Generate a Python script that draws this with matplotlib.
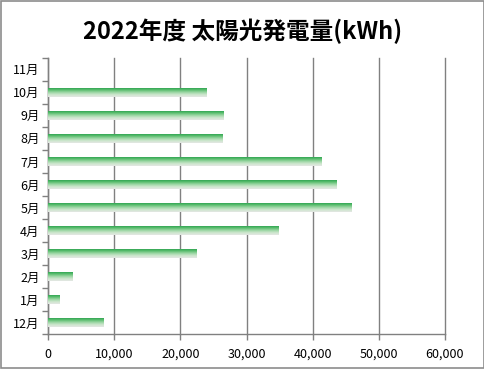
import matplotlib
matplotlib.use("Agg")
import matplotlib.pyplot as plt
import numpy as np
from matplotlib.colors import LinearSegmentedColormap
from matplotlib.patches import Rectangle

months = ["12月", "1月", "2月", "3月", "4月", "5月", "6月", "7月", "8月", "9月", "10月", "11月"]
values = [8370, 1770, 3690, 22420, 34850, 45880, 43560, 41340, 26390, 26540, 23930, 0]
xticks = [0, 10000, 20000, 30000, 40000, 50000, 60000]
title = "2022年度 太陽光発電量(kWh)"

plt.rcParams['font.family'] = ['Noto Sans CJK JP', 'DejaVu Sans']

fig = plt.figure(figsize=(4.85, 3.69), dpi=100)
fig.patch.set_facecolor("white")
fig.add_artist(Rectangle((0.002, 0.003), 0.995, 0.994, transform=fig.transFigure,
                         fill=False, edgecolor="#8c8c8c", linewidth=1.2))

ax = fig.add_axes([0.099, 0.095, 0.8185, 0.748])
y = np.arange(len(months))
bars = ax.barh(y, values, height=0.4, color="none", edgecolor="none", zorder=3)

cmap = LinearSegmentedColormap.from_list(
    "g", ["#e4e7e4", "#cbe6cb", "#94d49e", "#52b968", "#1f9a48"])
grad = np.linspace(0, 1, 64).reshape(-1, 1)
for b in bars:
    if b.get_width() <= 0:
        continue
    x0, y0 = b.get_x(), b.get_y()
    w, h = b.get_width(), b.get_height()
    im = ax.imshow(grad, cmap=cmap, aspect="auto", origin="lower",
                   extent=[x0, x0 + w, y0, y0 + h], zorder=3, interpolation="bilinear")
    im.set_clip_path(b)

ax.set_xlim(0, 60000)
ax.set_ylim(-0.5, len(months) - 0.5)
ax.set_xticks(xticks)
ax.set_xticklabels([f"{v:,}" for v in xticks], fontsize=9)
ax.set_yticks(y)
ax.set_yticklabels(months, fontsize=9)
ax.set_yticks(np.arange(-0.5, len(months), 1), minor=True)
ax.tick_params(axis="y", which="major", length=0, pad=6)
ax.tick_params(axis="y", which="minor", length=4, color="#808080", width=1)
ax.tick_params(axis="x", length=4, color="#808080", width=1, pad=6)
ax.grid(axis="x", color="#808080", linewidth=1, zorder=0)
for gl in ax.get_xgridlines():
    gl.set_clip_on(False)
ax.set_axisbelow(True)
for s in ["top", "right"]:
    ax.spines[s].set_visible(False)
for s in ["left", "bottom"]:
    ax.spines[s].set_color("#808080")
    ax.spines[s].set_linewidth(1)

fig.text(0.5, 0.915, title, ha="center", va="center", fontsize=17, fontweight="bold")

fig.savefig("out.png", dpi=100)
